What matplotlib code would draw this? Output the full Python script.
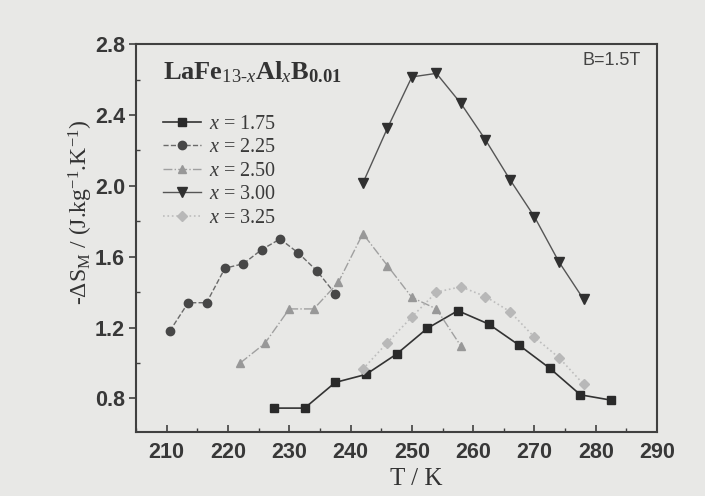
import matplotlib
matplotlib.use("Agg")
import matplotlib.pyplot as plt
from matplotlib.ticker import MultipleLocator

plt.rcParams['mathtext.fontset'] = 'custom'
plt.rcParams['mathtext.rm'] = 'Liberation Serif'
plt.rcParams['mathtext.it'] = 'Liberation Serif:italic'
plt.rcParams['mathtext.bf'] = 'Liberation Serif:bold'

# DATA
T_175 = [227.5, 232.5, 237.5, 242.5, 247.5, 252.5, 257.5, 262.5, 267.5, 272.5, 277.5, 282.5]
S_175 = [0.745, 0.745, 0.89, 0.935, 1.05, 1.195, 1.295, 1.22, 1.10, 0.97, 0.82, 0.79]

T_225 = [210.5, 213.5, 216.5, 219.5, 222.5, 225.5, 228.5, 231.5, 234.5, 237.5]
S_225 = [1.18, 1.34, 1.34, 1.535, 1.56, 1.64, 1.70, 1.62, 1.52, 1.39]

T_250 = [222, 226, 230, 234, 238, 242, 246, 250, 254, 258]
S_250 = [1.00, 1.11, 1.305, 1.305, 1.455, 1.73, 1.55, 1.37, 1.305, 1.095]

T_300 = [242, 246, 250, 254, 258, 262, 266, 270, 274, 278]
S_300 = [2.015, 2.325, 2.615, 2.635, 2.465, 2.26, 2.035, 1.825, 1.57, 1.36]

T_325 = [242, 246, 250, 254, 258, 262, 266, 270, 274, 278]
S_325 = [0.965, 1.115, 1.26, 1.40, 1.43, 1.375, 1.29, 1.145, 1.03, 0.88]

LABELS = ['1.75', '2.25', '2.50', '3.00', '3.25']

BG = '#e8e8e6'
fig = plt.figure(figsize=(7.05, 4.96), dpi=100, facecolor=BG)
ax = fig.add_axes([0.193, 0.129, 0.739, 0.782], facecolor=BG)

ax.plot(T_175, S_175, color='#333333', ls='-', lw=1.2, marker='s', ms=6,
        mfc='#2a2a2a', mec='#2a2a2a', label='$\\mathit{x}$ = ' + LABELS[0])
ax.plot(T_225, S_225, color='#6a6a6a', ls='--', lw=1.0, marker='o', ms=6,
        mfc='#474747', mec='#474747', label='$\\mathit{x}$ = ' + LABELS[1])
ax.plot(T_250, S_250, color='#a0a0a0', ls='-.', lw=1.0, marker='^', ms=6,
        mfc='#989898', mec='#989898', label='$\\mathit{x}$ = ' + LABELS[2])
ax.plot(T_300, S_300, color='#555555', ls='-', lw=1.0, marker='v', ms=7,
        mfc='#303030', mec='#303030', label='$\\mathit{x}$ = ' + LABELS[3])
ax.plot(T_325, S_325, color='#bdbdbd', ls=':', lw=1.2, marker='D', ms=5.5,
        mfc='#b8b8b8', mec='#b8b8b8', label='$\\mathit{x}$ = ' + LABELS[4])

ax.set_xlim(205, 290)
ax.set_ylim(0.61, 2.8)
ax.xaxis.set_major_locator(MultipleLocator(10))
ax.xaxis.set_minor_locator(MultipleLocator(5))
ax.yaxis.set_minor_locator(MultipleLocator(0.2))
ax.set_yticks([0.8, 1.2, 1.6, 2.0, 2.4, 2.8])
ax.set_yticklabels(['0.8', '1.2', '1.6', '2.0', '2.4', '2.8'])

for s in ax.spines.values():
    s.set_linewidth(1.5)
    s.set_color('#404040')
ax.tick_params(axis='x', which='major', direction='in', length=5, width=1.2,
               color='#404040', labelsize=15.5, pad=7)
ax.tick_params(axis='x', which='minor', direction='in', length=3, width=1.0, color='#404040')
ax.tick_params(axis='y', which='major', direction='out', length=5, width=1.2,
               color='#404040', labelsize=15.5, pad=3)
ax.tick_params(axis='y', which='minor', direction='in', length=3, width=1.0, color='#404040')
for lab in ax.get_xticklabels() + ax.get_yticklabels():
    lab.set_family('Liberation Sans')
    lab.set_weight('bold')
    lab.set_color('#383838')

ax.set_xlabel('T / K', family='Liberation Serif', fontsize=18, color='#333333')
ax.xaxis.set_label_coords(0.537, -0.092)
ax.set_ylabel('-ΔS$_\\mathrm{M}$ / (J.kg$^{\\mathrm{-1}}$.K$^{\\mathrm{-1}}$)',
              family='Liberation Serif', fontsize=17, color='#333333')
ax.yaxis.set_label_coords(-0.078, 0.565)

ax.text(0.052, 0.928,
        '$\\mathbf{LaFe}_{\\mathit{13\\text{-}x}}\\mathbf{Al}_{\\mathit{x}}\\mathbf{B}_{\\mathbf{0.01}}$',
        transform=ax.transAxes, fontsize=19, color='#333333', va='center', ha='left')
ax.text(0.968, 0.958, 'B=1.5T', transform=ax.transAxes, family='Liberation Sans',
        fontsize=13, color='#444444', ha='right', va='center')

leg = ax.legend(loc='upper left', bbox_to_anchor=(0.024, 0.855), frameon=False,
                prop={'family': 'Liberation Serif', 'size': 14.5}, handlelength=1.9,
                handletextpad=0.4, labelspacing=0.22, borderaxespad=0.3)
for t in leg.get_texts():
    t.set_color('#3a3a3a')

fig.savefig('out.png', dpi=100, facecolor=BG)
